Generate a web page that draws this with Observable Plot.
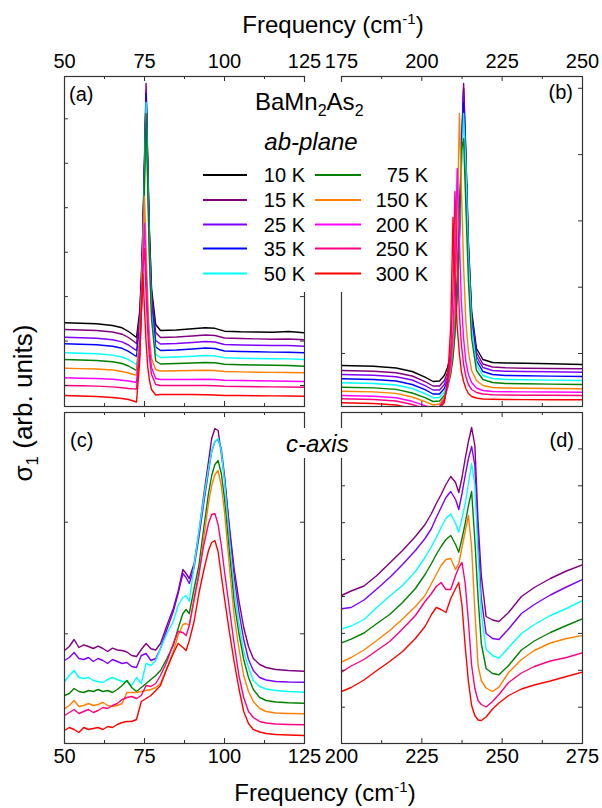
<!DOCTYPE html>
<html><head><meta charset="utf-8">
<script src="https://cdn.jsdelivr.net/npm/d3@7"></script>
<script src="https://cdn.jsdelivr.net/npm/@observablehq/plot@0.6"></script>
<style>
body{margin:0;background:#fff;}
#fig{position:relative;width:602px;height:808px;overflow:hidden;background:#fff;font-family:"Liberation Sans",Arial,Helvetica,sans-serif;}
#fig svg{position:absolute;}
</style></head><body><div id="fig"></div>
<script>
// ---- series names and colours ----
const temps = ["10 K","15 K","25 K","35 K","50 K","75 K","150 K","200 K","250 K","300 K"];
const colors = ["#000000","#800080","#8000FF","#0000FF","#00FFFF","#008000","#FF8000","#FF00FF","#FF0080","#FF0000"];
const cTemps = ["15 K","25 K","50 K","75 K","150 K","250 K","300 K"];

// ---- tick values ----
const ticksA = [50,75,100,125], minorA = [62.5,87.5,112.5];
const ticksB = [175,200,225,250], minorB = [187.5,212.5,237.5];
const ticksC = [50,75,100,125], minorC = [62.5,87.5,112.5];
const ticksD = [200,225,250,275], minorD = [212.5,237.5,262.5];
const yTicksA = [21,65.4,109.9,154.3,198.8,243.2,287.7];
const yTicksB = [53,119.3,185.6,251.9,318.2];
const yTicksC = [109.7,221.3];
const yTicksD = [36.3,73.2,110.1,147,183.9,220.8,257.7,294.6];

// ---- panel (a): ab-plane, 50-125 cm-1 (sigma1, arb. units) ----
const freqA = [50,55,60,65,68,70,71.5,72.5,73.5,74,74.5,75,75.5,76,76.5,77.2,78.5,80,85,90,94,97,100,105,110,115,120,125];
const sigmaA = [
 [83.7,83.2,82.7,81.0,78.7,75.0,71.5,69.0,95,128,178,243,312,243,178,118,82,76,76.5,77.7,78.7,78.2,75.3,74.7,74.5,74.3,75.0,73.7],
 [77.0,76.5,76.0,74.5,72.3,69.0,65.5,63.0,90,125,178,250,323,250,178,114,74,69,69.5,70.5,71.5,71.0,68.5,68.0,67.6,67.3,67.5,66.7],
 [69.3,68.8,68.3,66.8,64.6,61.5,58.2,56.0,83,118,171,242,316,242,171,107,66,62.5,63.0,64.0,65.0,64.5,62.0,61.5,61.2,61.0,61.0,60.3],
 [62.7,62.2,61.7,60.3,58.2,55.2,52.0,50.0,77,112,166,238,313,238,166,101,59.5,56.0,56.5,57.5,58.5,58.0,55.5,55.0,54.7,54.4,54.3,53.7],
 [53.7,53.2,52.7,51.4,49.5,46.8,44.0,42.0,69,104,158,229,304,229,158,94,52,49.0,49.5,50.3,51.0,50.6,48.8,48.3,48.0,47.8,47.6,47.0],
 [47.0,46.5,46.0,44.8,43.0,40.5,37.8,36.0,62,96,150,220,293,220,150,87,45.5,42.5,43.0,43.5,44.0,43.7,42.3,41.8,41.5,41.2,41.0,40.3],
 [38.3,37.9,37.5,36.5,35.0,33.5,32.0,31.5,70,108,158,210,158,108,72,48,37,35.5,35.8,36.0,36.3,36.0,35.0,34.6,34.3,34.1,34.0,33.7],
 [28.7,28.3,28.0,27.2,26.3,25.5,24.8,24.0,60,94,137,183,137,94,62,39,28,27.0,27.0,27.0,27.2,27.0,26.3,26.0,25.8,25.5,25.3,25.0],
 [21.0,20.7,20.4,19.6,18.7,18.0,17.6,17.5,50,88,140,158,112,75,50,32,22,21.0,21.0,21.0,21.0,20.8,20.3,20.0,19.8,19.6,19.5,19.3],
 [11.0,10.5,10.0,9.0,8.0,7.0,5.5,4.5,45,95,133,97,64,40,27,17,11.5,12.0,12.0,12.0,11.8,11.5,11.0,11.0,10.8,10.6,10.5,10.3]
];

// ---- panel (b): ab-plane, 175-250 cm-1 ----
const freqB = [175,185,192,197,201,203.5,205.5,207,208,209,209.7,210.3,211,211.7,212.3,213,213.7,214.5,215.5,217,219,222,226,232,240,250];
const sigmaB = [
 [41,40.3,38.5,35,29.3,25,25.5,31,39,52,68,90,125,180,255,318,250,160,95,58,47,44,43.5,43.2,42.8,42],
 [36,35.3,33.8,30.5,24.8,20.5,20.5,26,34,47,63,85,120,178,255,323,255,165,92,54,42.5,39.5,38.7,38.3,38,37.7],
 [32,31.3,29.8,26.5,20.8,16.5,16.5,22,30,43,59,81,116,172,248,312,245,158,88,50,39,36,35.3,35,34.7,34.3],
 [27.7,27,25.5,22,16.8,12.5,12.5,18,26,39,55,77,112,168,242,304,238,152,84,46,35,32,31,30.7,30.4,30],
 [23.7,23,21.5,18,12.8,8.8,9,14.5,22,35,51,73,108,162,235,293,240,150,80,42,31,28,27,26.7,26.4,26],
 [19.3,18.6,17.1,13.5,8.8,5,5.5,11,19,32,48,72,110,170,255,268,200,125,68,36,27,24,23,22.7,22.4,22],
 [15.3,14.6,13.1,9.5,4.8,1.5,2.5,9,19,38,62,100,175,293,220,140,85,55,36,26,21,19,18.5,18.2,18,17.7],
 [11,10.3,8.8,5.2,0.8,-1.5,0,7,19,42,75,130,238,165,105,68,45,32,24,18.5,16,15,14.8,14.6,14.5,14.3],
 [7.7,7,5.5,2,-2,-3.5,-1,7,23,55,120,215,150,92,62,42,30,22,17,14,12.5,11.8,11.5,11.3,11.2,11],
 [3.7,3,1.5,-2,-4.5,-5,-2,4,25,80,189,130,80,52,35,25,18,13,10,8.5,7.5,7.2,7,6.9,6.8,6.7]
];

// ---- panel (c): c-axis, 50-125 cm-1 ----
const freqC = [50,51.5,53,54.5,56,57.5,59,60.5,62,63.5,65,66.5,68,69.5,71,72.5,74,75.5,77,78.5,80,82,84,85.5,87,88,89,90.5,92,93.5,95,96,97,98,99,100,101.5,103,104.5,106,107.5,109,111,113,116,120,125];
const sigmaC = [
 [93,97,104,96,98.7,97,95,97.3,95,92,95.3,93.5,93,91.5,88,87,94,100,94.7,93.5,100,118,135,152,174,170,165,180,211,248,282,305,315,313,290,265,218,175,143,116,97,85,79,76,74,73,72.3],
 [83,86,91,85,84,86,82,85,83,80,84,82,80,81,77,76,88,90,83,85,95,114,132,150,170,166,160,176,206,240,272,292,302,304,295,268,215,168,132,104,84,73,66,63.5,62,61.5,61.3],
 [62,68,73,66,65,66,63,62,61,64,66,64,62,62,58,66,60,80,78,83,95,110,122,138,146,148,142,178,212,245,275,292,302,305,293,262,205,155,120,92,76,63,57,54.5,53,52,51.3],
 [48,50,55,52,51,53,52,54,52,53,51,54,58,63,56,52,56,60,64,68,73,85,98,115,130,134,130,155,178,215,250,268,279,283,270,245,193,142,110,84,66,54,46,43,41.5,40.8,40.3],
 [34.7,38,43,37,38,40,38,39,41,38,37,38,40,51,51,51,52,53,54,56,60,75,92,108,119,120,118,143,168,205,240,258,269,273,258,232,178,128,95,68,52,42,35,32,30.5,30,29.7],
 [28,31,34,30,32,34,31,33,36,35,38,40,44,46,47,45,48,58,57,60,68,82,100,112,111,108,118,145,170,198,220,229,230,219,198,172,136,100,68,46,32,26,22,20.5,19.5,19,18.7],
 [13,16,14,11,16,14,15,16,14,17,16,19,21,22,22,24,42,45,48,53,58,75,90,100,96,93,103,122,150,173,193,201,203,192,168,145,112,82,55,32,20,14,11.5,10,9,8.5,8]
];

// ---- panel (d): c-axis, 200-275 cm-1 ----
const freqD = [200,203,207,211,215,219,223,226,228,229.5,231,232.5,234,235.5,236.5,237.5,238.5,239.5,240.5,241.5,242.5,243.5,245,247,249,252,256,260,265,270,275];
const sigmaD = [
 [148,152.5,157.5,168,180.5,193,207,219,230,240,249,259,267,261,251,266,285,302,316,298,222,168,127,123.5,122,131,147,156,165,172.5,178.7],
 [134.7,136,143.5,154.5,166,179,193,205,215,226,236,246,252,244,234,250,268,285,297,278,205,145,110,105,104,114.5,130,139,148.5,156.5,164],
 [114.7,117.5,124,136,147.5,158,172,186,197,206,216,225,229.5,220,211.3,225,240,260,280,258,188,130,94,88,85.3,96,110,119,128,135,143],
 [100.7,104.3,110.5,120,129,141,155,169,180,189,197,204,208,199,191.3,205,220,238,252,203,146,100,75,70,68.7,78,93.5,102.5,111,118,124.7],
 [81.3,86,93.5,103,113,124.5,137,148,160,169,178,184,185,174,180,196,212,228,196,133,78,63,55.5,52,56.3,71,84,93,100.5,105,108],
 [71.3,77.5,84,93,102,114.5,128,142,150,157,161,154,154,168,176,181,160,122,78,55,43,39,36.5,42,49,61,70.5,77,82.5,86,90.7],
 [52,56,63.5,73,82,92,105,117,129,136,134,131,145,155,161,138,97,62,38,28,23.5,23,26.5,34.5,40.5,48,54.5,58.5,62.5,67,71.3]
];

const fig = document.getElementById("fig");
const FONT = '"Liberation Sans", Arial, Helvetica, sans-serif';
const FRAME = "#333";

function drawPanel({xs, ys, names, xDomain, xLabels, xMinor, yTicks, axis, left, top, width, height}) {
  const rows = [];
  names.forEach((n, i) => ys[i].forEach((v, j) => rows.push({f: xs[j], s: v, T: n})));
  const mT = axis === "top" ? 34 : 4, mB = axis === "bottom" ? 34 : 4, mL = 20, mR = 20;
  const svg = Plot.plot({
    width: width + mL + mR, height: height + mT + mB,
    marginTop: mT, marginBottom: mB, marginLeft: mL, marginRight: mR,
    style: {background: "transparent", fontFamily: FONT, fontSize: "20px", color: "#000", overflow: "visible"},
    x: {domain: xDomain},
    y: {domain: [0, height], axis: null},
    color: {domain: temps, range: colors},
    marks: [
      Plot.line(rows, {x: "f", y: "s", z: "T", stroke: "T", strokeWidth: 1.4, clip: true}),
      Plot.ruleX(xLabels, {x: d => d, insetBottom: height - 5, stroke: FRAME}),
      Plot.ruleX(xMinor, {x: d => d, insetBottom: height - 3, stroke: FRAME}),
      Plot.ruleX(xLabels, {x: d => d, insetTop: height - 5, stroke: FRAME}),
      Plot.ruleX(xMinor, {x: d => d, insetTop: height - 3, stroke: FRAME}),
      Plot.ruleY(yTicks, {y: d => d, insetRight: width - 4, stroke: FRAME}),
      Plot.ruleY(yTicks, {y: d => d, insetLeft: width - 4, stroke: FRAME}),
      Plot.frame({stroke: FRAME, strokeWidth: 1.2}),
      Plot.axisX({ticks: xLabels, anchor: axis, tickSize: 0, tickPadding: axis === "top" ? 9 : 5, label: null, fontSize: 20, tickFormat: d => String(d)})
    ]
  });
  svg.style.left = (left - mL) + "px";
  svg.style.top = (top - mT) + "px";
  fig.append(svg);
}

drawPanel({xs: freqA, ys: sigmaA, names: temps, xDomain: [50,125], xLabels: ticksA, xMinor: minorA, yTicks: yTicksA, axis: "top", left: 64, top: 76, width: 240, height: 330});
drawPanel({xs: freqB, ys: sigmaB, names: temps, xDomain: [175,250], xLabels: ticksB, xMinor: minorB, yTicks: yTicksB, axis: "top", left: 341, top: 76, width: 241, height: 330});
drawPanel({xs: freqC, ys: sigmaC, names: cTemps, xDomain: [50,125], xLabels: ticksC, xMinor: minorC, yTicks: yTicksC, axis: "bottom", left: 64, top: 412, width: 240, height: 331});
drawPanel({xs: freqD, ys: sigmaD, names: cTemps, xDomain: [200,275], xLabels: ticksD, xMinor: minorD, yTicks: yTicksD, axis: "bottom", left: 341, top: 412, width: 241, height: 331});

// ---- annotations, titles and legend ----
const ov = d3.select("#fig").append("svg")
  .attr("width", 602).attr("height", 808)
  .style("left", "0px").style("top", "0px")
  .attr("font-family", FONT);

// white boxes behind legend and c-axis label
ov.append("rect").attr("x", 190).attr("y", 82).attr("width", 250).attr("height", 210).attr("fill", "#fff");
ov.append("rect").attr("x", 284).attr("y", 428).attr("width", 68).attr("height", 30).attr("fill", "#fff");

function axisTitle(x, y) {
  const t = ov.append("text").attr("x", x).attr("y", y).attr("text-anchor", "middle").attr("font-size", 24).text("Frequency (cm");
  t.append("tspan").attr("dy", -9).attr("font-size", 15).text("-1");
  t.append("tspan").attr("dy", 9).attr("font-size", 24).text(")");
}
axisTitle(333, 33);
axisTitle(325, 801);

const yl = ov.append("text").attr("transform", "translate(32,403) rotate(-90)").attr("text-anchor", "middle").attr("font-size", 26).text("σ");
yl.append("tspan").attr("dy", 6).attr("font-size", 17).text("1");
yl.append("tspan").attr("dy", -6).attr("font-size", 26).text(" (arb. units)");

const panelTags = [
  {s: "(a)", x: 69, y: 101, a: "start"},
  {s: "(b)", x: 573, y: 99, a: "end"},
  {s: "(c)", x: 70, y: 447, a: "start"},
  {s: "(d)", x: 574, y: 447, a: "end"}
];
panelTags.forEach(p => ov.append("text").attr("x", p.x).attr("y", p.y).attr("text-anchor", p.a).attr("font-size", 20).text(p.s));

const comp = ov.append("text").attr("x", 255).attr("y", 110).attr("font-size", 24).text("BaMn");
comp.append("tspan").attr("dy", 6).attr("font-size", 16).text("2");
comp.append("tspan").attr("dy", -6).attr("font-size", 24).text("As");
comp.append("tspan").attr("dy", 6).attr("font-size", 16).text("2");

ov.append("text").attr("x", 311).attr("y", 150).attr("text-anchor", "middle").attr("font-size", 24).attr("font-style", "italic").text("ab-plane");
ov.append("text").attr("x", 286).attr("y", 452).attr("font-size", 24).attr("font-style", "italic").text("c-axis");

const legRows = [175, 200, 224.5, 248.5, 273.5];
const legCols = [{x1: 203, x2: 247, tx: 305}, {x1: 315, x2: 361, tx: 428}];
temps.forEach((t, i) => {
  const c = legCols[Math.floor(i / 5)], y = legRows[i % 5];
  ov.append("line").attr("x1", c.x1).attr("x2", c.x2).attr("y1", y).attr("y2", y).attr("stroke", colors[i]).attr("stroke-width", 2);
  ov.append("text").attr("x", c.tx).attr("y", y).attr("dy", "0.36em").attr("text-anchor", "end").attr("font-size", 20).text(t);
});
</script>
</body></html>
